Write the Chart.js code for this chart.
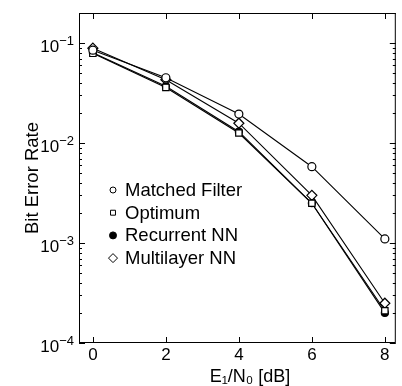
<!DOCTYPE html>
<html>
<head>
<meta charset="utf-8">
<script src="https://cdn.jsdelivr.net/npm/chart.js@4/dist/chart.umd.min.js"></script>
<style>
  html, body { margin: 0; padding: 0; background: #fff; }
  #wrap { width: 402px; height: 386px; }
</style>
</head>
<body>
<div id="wrap"><canvas id="berChart"></canvas></div>
<script>
// E1/N0 in dB
const snr = [0, 2, 4, 6, 8];
// bit error rates
const matchedFilter = [0.085, 0.045, 0.0195, 0.0058, 0.0011];
const optimum       = [0.079, 0.036, 0.0126, 0.0025, 0.00021];
const recurrentNN   = [0.080, 0.037, 0.013, 0.0025, 0.00020];
const multilayerNN  = [0.089, 0.043, 0.0158, 0.0030, 0.00025];
const seriesNames = ["Matched Filter", "Optimum", "Recurrent NN", "Multilayer NN"];
const xTicks = [0, 2, 4, 6, 8];
const yDecades = [1e-4, 1e-3, 1e-2, 1e-1];
const yExponents = ["\u22124", "\u22123", "\u22122", "\u22121"];
const xTitle = "E\u2081/N\u2080 [dB]";

const FONT = "'Liberation Sans', Arial, Helvetica, sans-serif";

function pairs(ys) {
  return snr.map((x, i) => ({ x: x, y: ys[i] }));
}

const styles = [
  { pointStyle: "circle", radius: 4, fill: "#fff", legendRadius: 3 },
  { pointStyle: "rect", radius: 4.5, fill: "#fff", legendRadius: 3.5 },
  { pointStyle: "circle", radius: 3.5, fill: "#000", legendRadius: 3.5 },
  { pointStyle: "rectRot", radius: 5, fill: "#fff", legendRadius: 4.5 }
];
const seriesData = [matchedFilter, optimum, recurrentNN, multilayerNN];

const datasets = seriesNames.map((name, i) => ({
  label: name,
  data: pairs(seriesData[i]),
  borderColor: "#000",
  borderWidth: 1.1,
  pointStyle: styles[i].pointStyle,
  pointRadius: styles[i].radius,
  pointBackgroundColor: styles[i].fill,
  pointBorderColor: "#000",
  pointBorderWidth: 1.2,
  tension: 0,
  clip: false
}));

// frame with inward ticks on all four sides, 10^n labels, x title, legend
const frameTicks = {
  id: "frameTicks",
  beforeDatasetsDraw(chart) {
    const { ctx, chartArea: a, scales } = chart;
    const xs = scales.x, ys = scales.y;
    ctx.save();
    ctx.strokeStyle = "#000";
    ctx.lineWidth = 1;
    ctx.strokeRect(a.left + 0.5, a.top + 0.5, a.right - a.left - 1, a.bottom - a.top - 1);
    ctx.beginPath();
    xTicks.forEach(v => {
      const px = Math.round(xs.getPixelForValue(v)) + 0.5;
      ctx.moveTo(px, a.top); ctx.lineTo(px, a.top + 6);
      ctx.moveTo(px, a.bottom); ctx.lineTo(px, a.bottom - 6);
    });
    for (let d = -4; d <= -1; d++) {
      for (let m = 1; m <= 9; m++) {
        const v = m * Math.pow(10, d);
        if (v > ys.max) continue;
        const py = Math.round(ys.getPixelForValue(v)) + 0.5;
        const len = m === 1 ? 6 : 3;
        ctx.moveTo(a.left, py); ctx.lineTo(a.left + len, py);
        ctx.moveTo(a.right, py); ctx.lineTo(a.right - len, py);
      }
    }
    ctx.stroke();

    // y tick labels as 10 with a raised exponent
    ctx.fillStyle = "#000";
    ctx.textBaseline = "alphabetic";
    ctx.textAlign = "left";
    yDecades.forEach((v, i) => {
      const py = ys.getPixelForValue(v);
      ctx.font = "13px " + FONT;
      const ew = ctx.measureText(yExponents[i]).width;
      ctx.font = "17px " + FONT;
      const bw = ctx.measureText("10").width;
      const right = a.left - 5;
      ctx.fillText("10", right - ew - bw, py + 9);
      ctx.font = "13px " + FONT;
      ctx.fillText(yExponents[i], right - ew, py + 2);
    });

    // x axis title, sitting a little right of centre as in the figure
    ctx.font = "18px " + FONT;
    ctx.textAlign = "center";
    ctx.textBaseline = "middle";
    ctx.fillText(xTitle, a.left + (a.right - a.left) * 0.54, 377);
    ctx.restore();
  },
  afterDraw(chart) {
    // legend inside the plot area
    const ctx = chart.ctx;
    const x0 = 113, y0 = 190, step = 22.7;
    ctx.save();
    ctx.font = "18.5px " + FONT;
    ctx.textBaseline = "middle";
    seriesNames.forEach((name, i) => {
      const y = y0 + i * step;
      ctx.fillStyle = styles[i].fill;
      ctx.strokeStyle = "#000";
      ctx.lineWidth = 1;
      Chart.helpers.drawPoint(ctx, {
        pointStyle: styles[i].pointStyle,
        radius: styles[i].legendRadius,
        borderWidth: 1,
        rotation: 0
      }, x0, y);
      ctx.fillStyle = "#000";
      ctx.fillText(name, x0 + 12, y + 1);
    });
    ctx.restore();
  }
};

new Chart(document.getElementById("berChart"), {
  type: "line",
  data: { datasets: datasets },
  options: {
    responsive: true,
    maintainAspectRatio: false,
    animation: false,
    layout: { padding: { top: 13, right: 0, left: 0, bottom: 0 } },
    plugins: { legend: { display: false }, tooltip: { enabled: false } },
    scales: {
      x: {
        type: "linear",
        min: -0.38,
        max: 8.3,
        afterBuildTicks: s => { s.ticks = xTicks.map(v => ({ value: v })); },
        afterFit: s => { s.height = 43; },
        grid: { display: false, drawTicks: false },
        border: { display: false },
        ticks: { color: "#000", font: { family: FONT, size: 17 }, padding: 2 },
        title: { display: false }
      },
      y: {
        type: "logarithmic",
        min: 1e-4,
        max: 0.2,
        afterBuildTicks: s => { s.ticks = yDecades.map(v => ({ value: v })); },
        afterFit: s => { s.width = 79; },
        grid: { display: false, drawTicks: false },
        border: { display: false },
        ticks: { display: false },
        title: {
          display: true,
          text: "Bit Error Rate",
          color: "#000",
          font: { family: FONT, size: 18.5 },
          padding: { top: 22, bottom: 0 }
        }
      }
    }
  },
  plugins: [frameTicks]
});
</script>
</body>
</html>
